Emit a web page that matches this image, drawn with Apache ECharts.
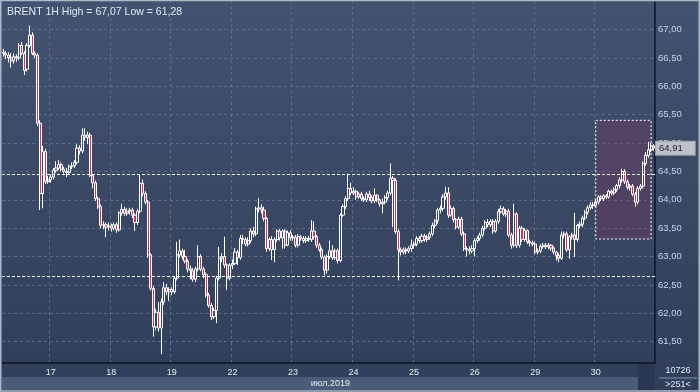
<!DOCTYPE html>
<html><head><meta charset="utf-8">
<script src="https://cdn.jsdelivr.net/npm/echarts@6/dist/echarts.min.js"></script>
<style>html,body{margin:0;padding:0;background:#33405c;}#c{width:700px;height:392px;}</style>
</head><body><div id="c"></div>
<script>
// rows: [open, close, low, high]
const day16 = [
[66.60,66.58,66.52,66.66],[66.58,66.55,66.48,66.62],[66.55,66.50,66.42,66.60],[66.50,66.45,66.33,66.58],
[66.45,66.52,66.40,66.58],[66.52,66.50,66.43,66.56],[66.50,66.72,66.46,66.76],[66.72,66.58,66.55,66.78],
[66.58,66.28,66.20,66.62],[66.30,66.72,66.26,66.76],[66.72,66.90,66.68,67.07],[66.90,66.58,66.55,66.95],
[66.58,66.55,66.50,66.62],[66.55,65.35,65.30,66.58],[65.35,64.11,63.82,65.40],[64.11,64.85,63.85,64.95],
[64.85,64.32,64.28,64.90],[64.32,64.35,64.28,64.42]];
const day17 = [
[64.35,64.40,64.30,64.45],[64.40,64.52,64.36,64.56],[64.52,64.56,64.48,64.68],[64.56,64.62,64.52,64.70],
[64.62,64.54,64.50,64.66],[64.54,64.50,64.46,64.58],[64.50,64.48,64.40,64.56],[64.48,64.58,64.44,64.62],
[64.58,64.60,64.54,64.66],[64.60,64.66,64.56,64.70],[64.66,64.91,64.62,64.98],[64.91,64.86,64.80,64.96],
[64.86,65.14,64.82,65.26],[65.14,65.10,65.04,65.26],[65.10,65.14,64.98,65.20],[65.14,64.43,64.40,65.18],
[64.43,64.30,64.20,64.46],[64.30,64.02,63.98,64.34],[64.02,63.88,63.84,64.06],[63.88,63.55,63.50,63.92],
[63.55,63.56,63.48,63.62],[63.56,63.52,63.34,63.60],[63.52,63.54,63.46,63.60]];
const day18 = [
[63.54,63.50,63.44,63.58],[63.50,63.56,63.46,63.60],[63.56,63.47,63.42,63.60],[63.47,63.77,63.44,63.80],
[63.77,63.83,63.72,63.93],[63.83,63.76,63.72,63.88],[63.76,63.80,63.72,63.85],[63.80,63.82,63.74,63.86],
[63.82,63.73,63.68,63.86],[63.73,63.60,63.45,63.76],[63.60,63.80,63.56,63.84],[63.80,64.29,63.76,64.45],
[64.29,64.11,64.06,64.36],[64.11,63.96,63.92,64.15],[63.96,63.03,62.98,64.00],[63.03,62.44,62.40,63.06],
[62.44,61.76,61.59,62.48],[61.76,62.02,61.70,62.08],[62.02,61.74,61.68,62.20],[61.74,62.20,61.28,62.26],
[62.20,62.45,62.15,62.55],[62.45,62.38,62.32,62.52],[62.38,62.42,62.22,62.46]];
const day19 = [
[62.42,62.38,62.32,62.46],[62.38,62.62,62.34,62.66],[62.62,63.03,62.58,63.26],[63.03,63.10,62.98,63.30],
[63.10,63.00,62.95,63.14],[63.00,62.92,62.88,63.12],[62.92,62.78,62.72,62.96],[62.78,62.75,62.60,62.84],
[62.75,62.60,62.56,62.80],[62.60,62.78,62.55,62.82],[62.78,63.00,62.74,63.20],[63.00,62.78,62.74,63.04],
[62.78,62.68,62.62,62.82],[62.68,62.32,62.28,62.72],[62.32,62.14,62.10,62.36],[62.14,61.94,61.88,62.18],
[61.94,62.05,61.90,62.10],[62.05,62.62,61.83,62.66],[62.62,62.97,62.58,63.17],[62.97,63.00,62.90,63.06],
[63.00,62.85,62.80,63.35],[62.85,62.62,62.41,62.88],[62.62,62.85,62.58,62.88]];
const day22 = [
[62.85,62.88,62.78,62.95],[62.88,63.08,62.85,63.15],[63.08,62.98,62.85,63.12],[62.98,63.32,62.94,63.38],
[63.32,63.30,63.22,63.38],[63.30,63.22,63.18,63.34],[63.22,63.28,63.18,63.34],[63.28,63.45,63.24,63.50],
[63.45,63.40,63.34,63.52],[63.40,63.84,63.36,63.88],[63.84,63.86,63.78,64.03],[63.86,63.82,63.76,63.92],
[63.82,63.67,63.62,63.88],[63.67,63.14,63.08,63.70],[63.14,63.30,63.10,63.34],[63.30,63.12,62.94,63.36],
[63.12,63.30,62.90,63.34],[63.30,63.45,63.26,63.48],[63.45,63.33,63.28,63.48],[63.33,63.45,63.14,63.48],
[63.45,63.20,63.14,63.48],[63.20,63.42,63.18,63.46],[63.42,63.33,63.28,63.46]];
const day23 = [
[63.33,63.34,63.28,63.38],[63.34,63.20,63.16,63.38],[63.20,63.35,63.16,63.40],[63.35,63.32,63.28,63.38],
[63.32,63.28,63.24,63.36],[63.28,63.32,63.24,63.36],[63.32,63.30,63.26,63.36],[63.30,63.45,63.26,63.64],
[63.45,63.35,63.30,63.62],[63.35,63.20,63.15,63.38],[63.20,63.12,63.08,63.24],[63.12,62.99,62.95,63.16],
[62.99,62.76,62.67,63.02],[62.76,63.00,62.70,63.04],[63.00,63.10,62.96,63.28],[63.10,62.98,62.94,63.20],
[62.98,63.10,62.94,63.14],[63.10,62.93,62.88,63.14],[62.93,63.73,62.90,63.76],[63.73,63.88,63.70,63.92],
[63.88,64.02,63.84,64.06],[64.02,64.20,63.98,64.46],[64.20,64.12,64.08,64.30]];
const day24 = [
[64.12,64.15,64.08,64.22],[64.15,64.05,64.00,64.18],[64.05,64.10,64.02,64.14],[64.10,64.02,63.98,64.14],
[64.02,64.00,63.96,64.06],[64.00,64.10,63.96,64.14],[64.10,64.04,63.98,64.16],[64.04,63.98,63.94,64.08],
[63.98,64.08,63.94,64.20],[64.08,64.00,63.96,64.10],[64.00,63.93,63.88,64.02],[63.93,63.96,63.76,64.02],
[63.96,64.04,63.92,64.08],[64.04,64.12,64.00,64.16],[64.12,64.38,64.08,64.64],[64.38,64.34,63.52,64.42],
[64.34,63.44,63.40,64.38],[63.44,63.12,62.58,63.48],[63.12,63.08,63.02,63.16],[63.08,63.12,63.04,63.16],
[63.12,63.10,63.04,63.16],[63.10,63.14,63.06,63.18],[63.14,63.20,63.08,63.30]];
const day25 = [
[63.20,63.22,63.14,63.26],[63.22,63.32,63.18,63.36],[63.32,63.28,63.24,63.36],[63.28,63.36,63.24,63.40],
[63.36,63.30,63.26,63.40],[63.30,63.34,63.26,63.38],[63.34,63.40,63.30,63.44],[63.40,63.55,63.36,63.60],
[63.55,63.63,63.50,63.66],[63.63,63.82,63.58,63.86],[63.82,63.85,63.76,63.90],[63.85,64.05,63.80,64.10],
[64.05,64.12,64.00,64.23],[64.12,63.73,63.68,64.22],[63.73,63.85,63.70,63.90],[63.85,63.65,63.60,63.88],
[63.65,63.52,63.48,63.68],[63.52,63.66,63.48,63.70],[63.66,63.40,63.36,63.70],[63.40,63.14,63.10,63.44],
[63.14,63.12,63.00,63.18],[63.12,63.10,63.04,63.18],[63.10,63.14,63.06,63.20]];
const day26 = [
[63.14,63.28,63.00,63.32],[63.28,63.32,63.24,63.36],[63.32,63.38,63.28,63.42],[63.38,63.50,63.34,63.54],
[63.50,63.60,63.46,63.64],[63.60,63.56,63.52,63.66],[63.56,63.62,63.52,63.66],[63.62,63.45,63.40,63.66],
[63.45,63.62,63.42,63.66],[63.62,63.79,63.58,63.84],[63.79,63.84,63.76,63.90],[63.84,63.75,63.72,63.88],
[63.75,63.80,63.70,63.84],[63.80,63.38,63.34,63.84],[63.38,63.20,63.14,63.42],[63.20,63.75,63.16,63.93],
[63.75,63.20,63.15,63.78],[63.20,63.50,63.16,63.54],[63.50,63.30,63.26,63.54],[63.30,63.46,63.26,63.50],
[63.46,63.26,63.22,63.48],[63.26,63.24,63.18,63.30],[63.24,63.22,63.18,63.28]];
const day29 = [
[63.22,63.08,63.04,63.26],[63.08,63.10,63.04,63.14],[63.10,63.18,63.06,63.22],[63.18,63.20,63.14,63.24],
[63.20,63.17,63.13,63.24],[63.17,63.20,63.13,63.24],[63.20,63.15,63.10,63.22],[63.15,63.08,63.04,63.18],
[63.08,63.02,62.93,63.10],[63.02,62.97,62.90,63.06],[62.97,63.38,62.94,63.44],[63.38,63.40,63.32,63.44],
[63.40,63.12,63.08,63.44],[63.12,63.35,62.96,63.38],[63.35,63.38,63.30,63.42],[63.38,63.30,62.99,63.77],
[63.30,63.55,63.26,63.58],[63.55,63.57,63.50,63.62],[63.57,63.68,63.52,63.72],[63.68,63.78,63.64,63.82],
[63.78,63.86,63.74,63.90],[63.86,63.91,63.82,63.96],[63.91,63.90,63.84,63.96]];
const day30 = [
[63.90,63.96,63.86,64.00],[63.96,64.05,63.92,64.08],[64.05,64.02,63.98,64.08],[64.02,64.07,63.98,64.10],
[64.07,64.05,64.01,64.10],[64.05,64.15,64.02,64.18],[64.15,64.12,64.08,64.18],[64.12,64.18,64.08,64.22],
[64.18,64.25,64.14,64.28],[64.25,64.35,64.20,64.40],[64.35,64.50,64.30,64.55],[64.50,64.32,64.28,64.54],
[64.32,64.22,64.18,64.36],[64.22,64.24,64.16,64.28],[64.24,64.10,64.06,64.28],[64.10,63.96,63.88,64.14],
[63.96,64.20,63.92,64.24],[64.20,64.24,64.16,64.28],[64.24,64.64,64.20,64.68],[64.64,64.78,64.60,64.84],
[64.78,64.88,64.74,65.02],[64.88,64.95,64.84,65.00],[64.95,64.91,64.86,64.98]];

const dayLabels = ['16','17','18','19','22','23','24','25','26','29','30'];
const dayRows = [day16,day17,day18,day19,day22,day23,day24,day25,day26,day29,day30];
const yTicks = [61.5,62,62.5,63,63.5,64,64.5,65,65.5,66,66.5,67];
const highLevel = 64.45, lowLevel = 62.65;
const boxTop = 65.40, boxBottom = 63.31;
const boxFrom = 225, boxTo = 246;
const lastPrice = 64.91;
const titleText = 'BRENT 1H High = 67,07 Low = 61,28';
const monthText = 'июл.2019';
const volText = '10726', barsText = '>251<';

const categories = [], candles = [], dayStart = new Set();
dayRows.forEach((rows, d) => {
  rows.forEach((r, j) => {
    if (j === 0 && d > 0) dayStart.add(categories.length);
    categories.push(dayLabels[d] + ' ' + j);
    candles.push(r);
  });
});
const fmt = v => v.toFixed(2).replace('.', ',');
const FONT = '"Liberation Sans", Arial, sans-serif';

const chart = echarts.init(document.getElementById('c'), null, {renderer: 'canvas'});
chart.setOption({
  animation: false,
  backgroundColor: 'transparent',
  grid: {left: 2, right: 45, top: 0, bottom: 29},
  xAxis: {
    type: 'category', data: categories, boundaryGap: true,
    axisLine: {show: true, lineStyle: {color: '#0d1220', width: 1.5}},
    axisTick: {show: false},
    axisLabel: {interval: i => dayStart.has(i), formatter: v => v.split(' ')[0],
      color: '#e6ebf2', fontSize: 9, margin: 5, fontFamily: FONT},
    splitLine: {show: true, interval: i => dayStart.has(i),
      lineStyle: {color: '#5b6b8c', type: [3, 3], width: 1}}
  },
  yAxis: {
    type: 'value', position: 'right', min: 61.125, max: 67.52, scale: true,
    axisLine: {show: true, lineStyle: {color: '#0d1220', width: 1.5}},
    axisTick: {show: false, customValues: yTicks},
    axisLabel: {customValues: yTicks, formatter: fmt, color: '#c9d3e4', fontSize: 9.5, margin: 3, fontFamily: FONT},
    splitLine: {show: true, lineStyle: {color: '#5b6b8c', type: [3, 3], width: 1}}
  },
  title: {text: titleText, left: 2, top: 2,
    textStyle: {color: '#e2e8f0', fontSize: 10.5, fontWeight: 'normal', fontFamily: FONT}},
  graphic: [
    {type: 'rect', id: 'bg', z: -100, silent: true, shape: {x: 0, y: 0, width: 700, height: 392},
      style: {fill: new echarts.graphic.LinearGradient(0, 0, 0, 1, [
        {offset: 0, color: '#43526f'}, {offset: 1, color: '#313e5a'}])}},
    {type: 'rect', id: 'band', z: 1, silent: true, shape: {x: 2, y: 377, width: 638, height: 13},
      style: {fill: '#4c5b78'}},
    {type: 'rect', id: 'band2', z: 1, silent: true, shape: {x: 638, y: 364, width: 17, height: 26},
      style: {fill: '#2b3752'}},
    {type: 'text', id: 'month', z: 2, silent: true, x: 350, y: 384,
      style: {text: monthText, fill: '#e2e8f0', font: '9px ' + FONT, textAlign: 'right', textVerticalAlign: 'middle'}},
    {type: 'text', id: 'vol', z: 2, silent: true, x: 678, y: 371,
      style: {text: volText, fill: '#e2e8f0', font: '9px ' + FONT, textAlign: 'center', textVerticalAlign: 'middle'}},
    {type: 'line', id: 'sep', z: 2, silent: true, shape: {x1: 659, y1: 378, x2: 697, y2: 378},
      style: {stroke: '#8595ad', lineWidth: 1}},
    {type: 'text', id: 'bars', z: 2, silent: true, x: 678, y: 385,
      style: {text: barsText, fill: '#e2e8f0', font: '9px ' + FONT, textAlign: 'center', textVerticalAlign: 'middle'}},
    {type: 'rect', id: 'frame', z: 50, silent: true, shape: {x: 0.75, y: 0.5, width: 698.5, height: 390.5},
      style: {fill: 'none', stroke: '#aeb8c6', lineWidth: 1.5}}
  ],
  series: [{
    type: 'candlestick', data: candles, barWidth: 2.6,
    itemStyle: {color: 'rgba(0,0,0,0)', color0: '#c4395e', borderColor: '#ffffff', borderColor0: '#ffffff', borderWidth: 1},
    markLine: {
      symbol: 'none', silent: true, animation: false,
      data: [
        {yAxis: highLevel, lineStyle: {color: '#ffffff', type: [3, 2], width: 1}, label: {show: false}},
        {yAxis: lowLevel, lineStyle: {color: '#ffffff', type: [3, 2], width: 1}, label: {show: false}},
        {yAxis: lastPrice, lineStyle: {color: 'rgba(0,0,0,0)', width: 0.1},
          label: {show: true, position: 'end', distance: 1, formatter: fmt(lastPrice),
            backgroundColor: '#bcc1c9', color: '#1b2230', fontSize: 9.5, fontFamily: FONT,
            padding: [2, 12, 1, 3], borderColor: '#9aa1ad', borderWidth: 1}}
      ]
    },
    markArea: {
      silent: true,
      itemStyle: {color: 'rgba(135,50,85,0.28)', borderColor: '#ffffff', borderType: [2, 2], borderWidth: 1},
      data: [[{xAxis: categories[boxFrom], yAxis: boxTop}, {xAxis: categories[boxTo], yAxis: boxBottom}]]
    }
  }]
});
</script></body></html>
